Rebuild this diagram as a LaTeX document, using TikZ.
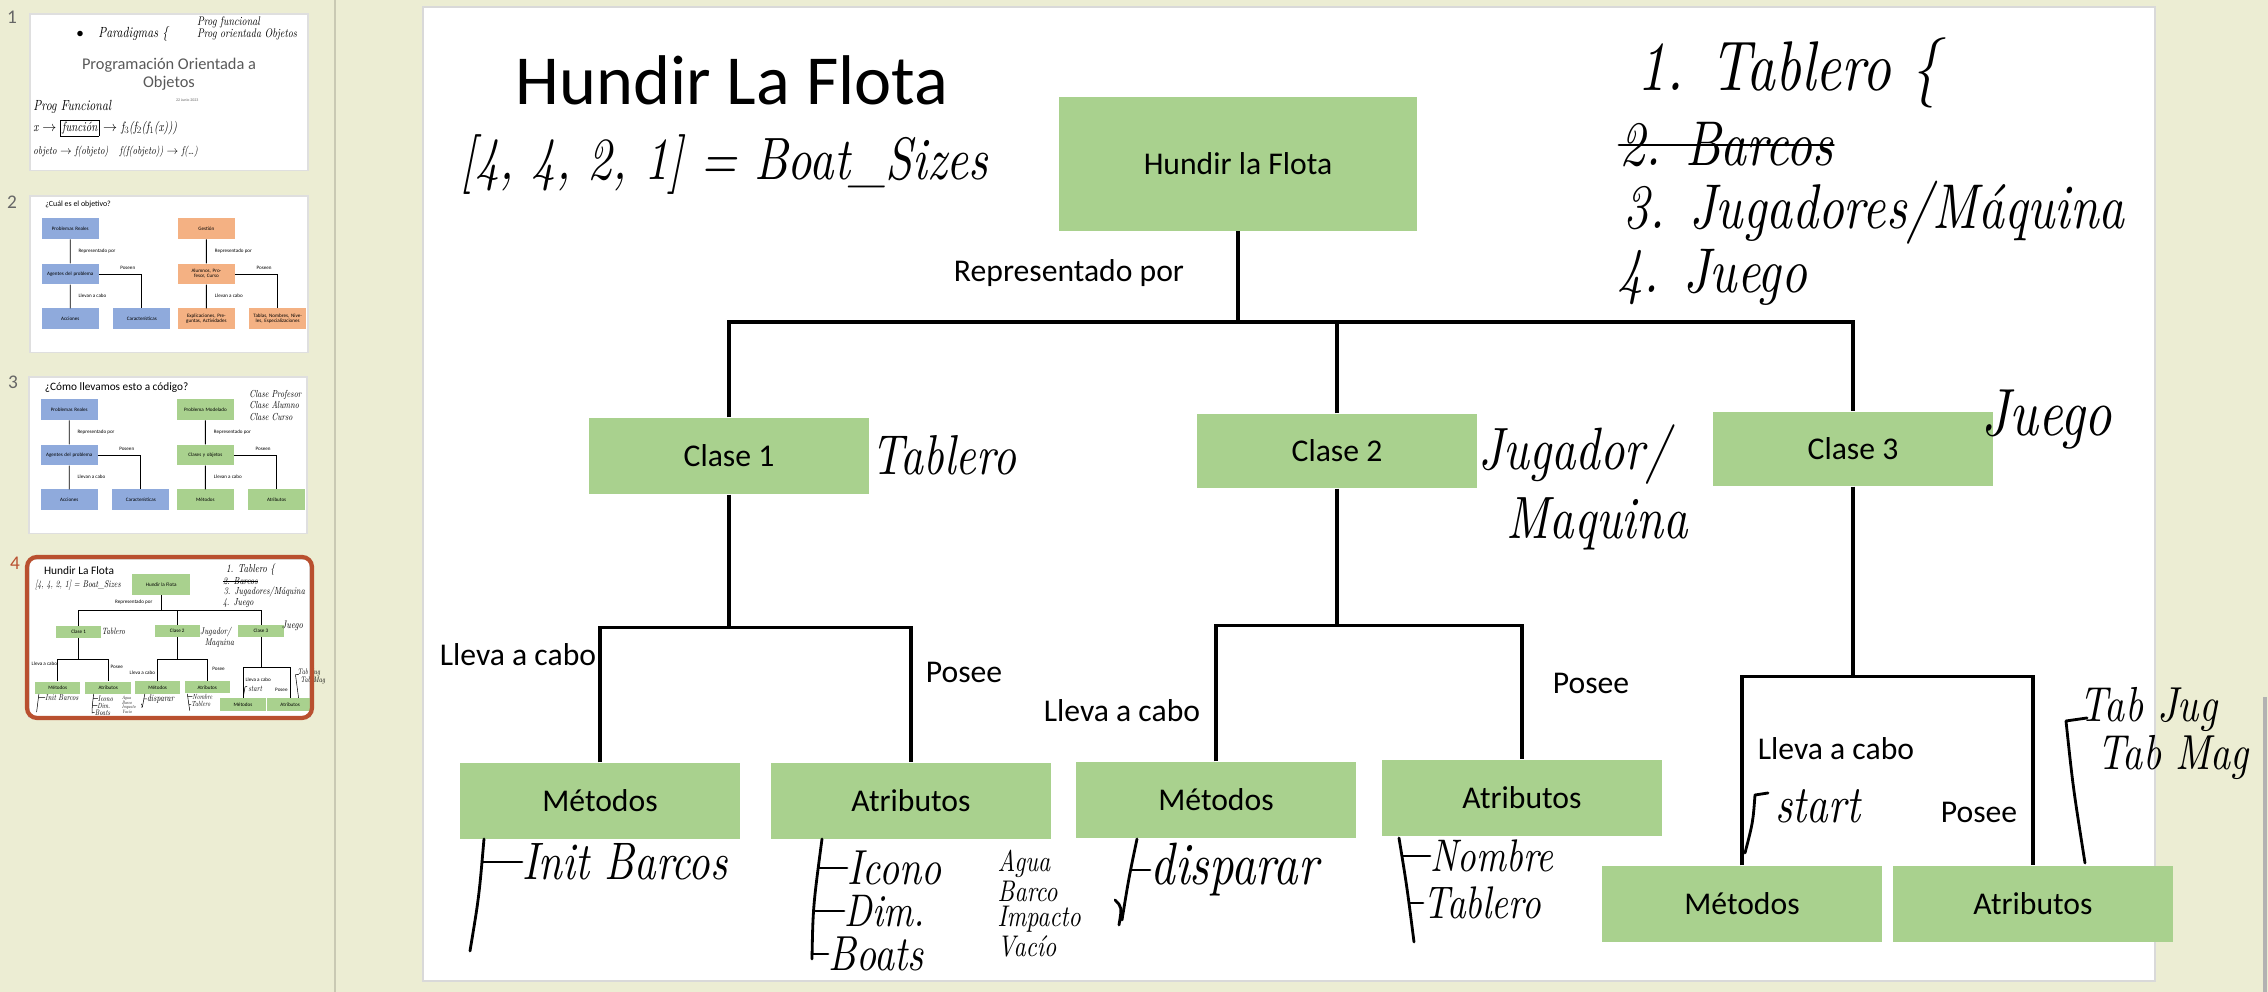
\documentclass[tikz,border=0pt]{standalone}
\usepackage{fontspec}
\setmainfont{Carlito}
\newfontfamily\handfont{lmroman10-italic.otf}[FakeStretch=0.8]
\usetikzlibrary{positioning}
\definecolor{boxgreen}{HTML}{A9D18E}
\definecolor{boxblue}{HTML}{8FAADC}
\definecolor{boxorange}{HTML}{F4B183}
\definecolor{panel}{HTML}{ECEDD3}
\definecolor{thumbred}{HTML}{B9502F}
\newcommand\hsz[1]{\fontsize{#1}{#1}\selectfont}
\tikzset{
  box/.style={fill=boxgreen, minimum width=2.8cm, minimum height=0.76cm, font=\hsz{9}},
  lab/.style={font=\hsz{9}},
  conn/.style={draw, line width=1pt},
  hand/.style={inner sep=0pt, anchor=west},
  pen/.style={line width=0.8pt, line cap=round, line join=round},
  tbox/.style={minimum width=3.56cm, minimum height=1.3cm, text width=3.2cm, align=center, font=\hsz{9}},
  thumb/.style={fill=white, draw=gray!25},
}
% diapositiva 1 (miniatura)
\newcommand\slideone{%
  \node[font=\fontsize{29}{32}\selectfont, text=black!65, align=center] (ptitle) at (866,374) {Programación Orientada a\\Objetos};
  \node[font=\hsz{7}, text=black!60] (fecha) at (980,539) {22 Junio 2023};
  \node[hand, font={\handfont\hsz{26}}] (par) at (290,125) {$\bullet$\quad Paradigmas \{};
  \node[hand, font={\handfont\hsz{22}}] (pfun) at (1040,50) {Prog funcional};
  \node[hand, font={\handfont\hsz{22}}] (pobj) at (1040,125) {Prog orientada Objetos};
  \node[hand, font={\handfont\hsz{26}}] (pfun2) at (21,577) {Prog Funcional};
  \node[hand, font={\handfont\hsz{24}}] (fx) at (21,712) {x $\rightarrow$ \fbox{función} $\rightarrow$ f$_3$(f$_2$(f$_1$(x)))};
  \node[hand, font={\handfont\hsz{20}}] (fobj) at (21,860) {objeto $\rightarrow$ f(objeto)\quad f(f(objeto)) $\rightarrow$ f(\dots)};
}
% diapositivas 2 y 3 (miniaturas)
\newcommand\minitrees[8]{%
  \node[tbox,lbox] (ta) at (251,204) {#1};
  \node[tbox,lbox] (tb) at (251,486) {#2};
  \node[tbox,lbox] (tc) at (251,766) {#3};
  \node[tbox,lbox] (td) at (697,766) {#4};
  \node[tbox,rbox] (te) at (1099,204) {#5};
  \node[tbox,rbox] (tf) at (1099,486) {#6};
  \node[tbox,rbox] (tg) at (1099,766) {#7};
  \node[tbox,rbox] (th) at (1543,766) {#8};
  \draw[conn] (ta) -- (tb) -- (tc);
  \draw[conn] (tb.east) -| (td.north);
  \draw[conn] (te) -- (tf) -- (tg);
  \draw[conn] (tf.east) -| (th.north);
  \node[lab, anchor=west] (tl1) at (290,346) {Representado por};
  \node[lab, anchor=west] (tl2) at (550,450) {Poseen};
  \node[lab, anchor=west] (tl3) at (290,622) {Llevan a cabo};
  \node[lab, anchor=west] (tl4) at (1140,346) {Representado por};
  \node[lab, anchor=west] (tl5) at (1400,450) {Poseen};
  \node[lab, anchor=west] (tl6) at (1140,622) {Llevan a cabo};
}
% diapositiva 4
\newcommand\hundirslide{%
  \node[font=\hsz{20}] (title) at (309,73) {Hundir La Flota};
  \node[box, minimum width=3.57cm, minimum height=1.33cm] (root) at (815,157) {Hundir la Flota};
  \node[box] (c1) at (306,449) {Clase 1};
  \node[box, minimum height=0.74cm] (c2) at (914,444) {Clase 2};
  \node[box, minimum height=0.74cm] (c3) at (1430,442) {Clase 3};
  \node[box] (m1) at (177,794) {Métodos};
  \node[box] (a1) at (488,794) {Atributos};
  \node[box] (m2) at (793,793) {Métodos};
  \node[box] (a2) at (1099,791) {Atributos};
  \node[box] (m3) at (1319,897) {Métodos};
  \node[box] (a3) at (1610,897) {Atributos};
  \draw[conn] (root.south) -- ++(0,91) coordinate (j0);
  \draw[conn] (c1.north) |- (j0) -| (c3.north);
  \draw[conn] (c2.north) |- (j0);
  \draw[conn] (c1.south) -- ++(0,133) coordinate (j1);
  \draw[conn] (m1.north) |- (j1) -| (a1.north);
  \draw[conn] (c2.south) -- ++(0,137) coordinate (j2);
  \draw[conn] (m2.north) |- (j2) -| (a2.north);
  \draw[conn] (c3.south) -- ++(0,190) coordinate (j3);
  \draw[conn] (m3.north) |- (j3) -| (a3.north);
  \node[lab] (rep) at (646,266) {Representado por};
  \node[lab] (lc1) at (95,648) {Lleva a cabo};
  \node[lab] (ps1) at (541,665) {Posee};
  \node[lab] (lc2) at (699,704) {Lleva a cabo};
  \node[lab] (ps2) at (1168,676) {Posee};
  \node[lab] (lc3) at (1413,742) {Lleva a cabo};
  \node[lab] (ps3) at (1556,805) {Posee};
  % notas a mano
  \node[hand, font={\handfont\hsz{17}}] (sizes) at (37,158) {[4, 4, 2, 1] = Boat\_Sizes};
  \node[hand, font={\handfont\hsz{20}}] (n1) at (1214,66) {1. Tablero \{};
  \node[hand, font={\handfont\hsz{18}}] (n2) at (1196,138) {2. Barcos};
  \draw[pen] (n2.west) -- (n2.east);
  \node[hand, font={\handfont\hsz{18}}] (n3) at (1200,206) {3. Jugadores/Máquina};
  \node[hand, font={\handfont\hsz{18}}] (n4) at (1194,270) {4. Juego};
  \node[hand, font={\handfont\hsz{16}}] (hc1) at (448,448) {Tablero};
  \node[hand, font={\handfont\hsz{17}}] (hc2) at (1055,448) {Jugador/};
  \node[hand, font={\handfont\hsz{17}}] (hc2b) at (1083,517) {Maquina};
  \node[hand, font={\handfont\hsz{19}}] (hc3) at (1558,413) {Juego};
  \node[hand, font={\handfont\hsz{14}}] (tj) at (1656,702) {Tab Jug};
  \node[hand, font={\handfont\hsz{14}}] (tm) at (1674,750) {Tab Mag};
  \draw[pen] (1664,711) -- (1643,714) .. controls (1650,780) .. (1662,856);
  \node[hand, font={\handfont\hsz{15}}] (init) at (99,855) {Init Barcos};
  \draw[pen] (61,832) .. controls (56,890) .. (47,944);
  \draw[pen] (59,855) -- (init.west);
  \node[hand, font={\handfont\hsz{14}}] (ico) at (424,861) {Icono};
  \node[hand, font={\handfont\hsz{13}}] (dim) at (421,904) {Dim.};
  \node[hand, font={\handfont\hsz{14}}] (boats) at (405,947) {Boats};
  \draw[pen] (399,832) .. controls (390,900) .. (389,952);
  \draw[pen] (396,861) -- (ico.west);
  \draw[pen] (391,904) -- (dim.west);
  \draw[pen] (389,947) -- (boats.west);
  \node[hand, font={\handfont\fontsize{8.5}{7.2}\selectfont}, align=left, anchor=north west] (tipos) at (574,842) {Agua\\Barco\\Impacto\\Vacío};
  \draw[pen] (692,893) .. controls (699,900) .. (696,918);
  \node[hand, font={\handfont\hsz{17}}] (disp) at (727,863) {disparar};
  \draw[pen] (714,832) .. controls (706,870) .. (699,913);
  \draw[pen] (708,863) -- (disp.west);
  \node[hand, font={\handfont\hsz{13}}] (nom) at (1007,849) {Nombre};
  \node[hand, font={\handfont\hsz{13}}] (tab) at (1000,896) {Tablero};
  \draw[pen] (976,831) .. controls (984,880) .. (991,935);
  \draw[pen] (979,849) -- (nom.west);
  \draw[pen] (986,896) -- (tab.west);
  \node[hand, font={\handfont\hsz{15}}] (start) at (1352,799) {start};
  \draw[pen] (1322,846) .. controls (1330,815) .. (1332,788) -- (1345,786);
}
\begin{document}
\begin{tikzpicture}[x=0.01cm, y=-0.01cm]
\useasboundingbox (0,0) rectangle (2268,992);
\fill[panel] (0,0) rectangle (2268,992);
\draw[panel!85!black, line width=0.6pt] (335,0) -- (335,992);
\draw[gray!60, line width=1pt] (2265,697) -- (2265,992);
% panel de miniaturas
\node[font=\hsz{5.5}, text=black!60] (k1) at (12,17) {1};
\node[font=\hsz{5.5}, text=black!60] (k2) at (12,202) {2};
\node[font=\hsz{5.5}, text=black!60] (k3) at (13,382) {3};
\node[font=\hsz{5.5}, text=thumbred] (k4) at (15,563) {4};
\begin{scope}[shift={(30,14)}, scale=0.1605, transform shape, conn/.style={draw, line width=0.2pt}, pen/.style={line width=0.15pt}]
  \draw[thumb] (0,0) rectangle (1732,974);
  \slideone
\end{scope}
\begin{scope}[shift={(30,196)}, scale=0.1605, transform shape, conn/.style={draw, line width=0.25pt}, lbox/.style={fill=boxblue}, rbox/.style={fill=boxorange}]
  \draw[thumb] (0,0) rectangle (1732,974);
  \node[anchor=west, font=\hsz{14}] (q2) at (83,50) {¿Cuál es el objetivo?};
  \minitrees{Problemas Reales}{Agentes del problema}{Acciones}{Características}{Gestión}{Alumnos, Profesor, Curso}{Explicaciones, Preguntas, Actividades}{Tablas, Nombres, Niveles, Especializaciones}
\end{scope}
\begin{scope}[shift={(29,377)}, scale=0.1605, transform shape, conn/.style={draw, line width=0.25pt}, lbox/.style={fill=boxblue}, rbox/.style={fill=boxgreen}]
  \draw[thumb] (0,0) rectangle (1732,974);
  \node[anchor=west, font=\hsz{20}] (q3) at (87,68) {¿Cómo llevamos esto a código?};
  \minitrees{Problemas Reales}{Agentes del problema}{Acciones}{Características}{Problema Modelado}{Clases y objetos}{Métodos}{Atributos}
  \node[hand, anchor=north west, align=left, font={\handfont\fontsize{18}{21}\selectfont}] (cls) at (1373,80) {Clase Profesor\\Clase Alumno\\Clase Curso};
\end{scope}
\begin{scope}[shift={(29,559)}, scale=0.1622, transform shape, conn/.style={draw, line width=0.25pt}, pen/.style={line width=0.15pt}]
  \draw[thumb] (0,0) rectangle (1732,974);
  \hundirslide
\end{scope}
\draw[thumbred, line width=1.2pt, rounded corners=1mm] (27,557) rectangle (312,718);
% diapositiva activa
\begin{scope}[shift={(423,7)}]
  \draw[fill=white, draw=gray!30] (0,0) rectangle (1732,974);
  \hundirslide
\end{scope}
\end{tikzpicture}
\end{document}
